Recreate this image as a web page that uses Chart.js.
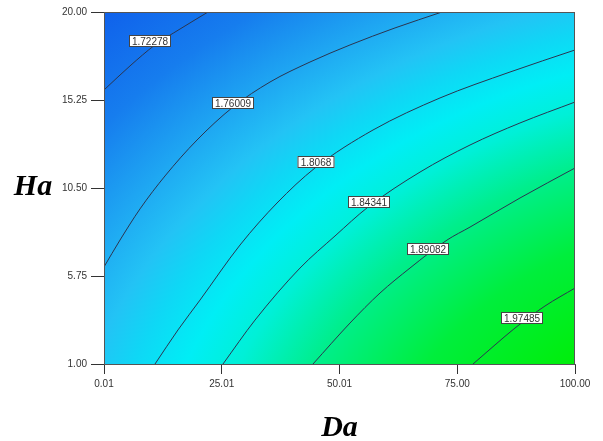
<!DOCTYPE html>
<html>
<head>
<meta charset="utf-8">
<script src="https://cdn.jsdelivr.net/npm/chart.js@4.4.1/dist/chart.umd.min.js"></script>
<style>
  body { margin: 0; background: #fff; }
  #wrap { width: 603px; height: 441px; position: relative; }
</style>
</head>
<body>
<div id="wrap"><canvas id="contour"></canvas></div>
<script>
// axis ticks
const daTicks = [0.01, 25.01, 50.01, 75.0, 100.0];
const haTicks = [1.0, 5.75, 10.5, 15.25, 20.0];

// contour levels and their label anchors (Da, Ha)
const levels = ["1.72278", "1.76009", "1.8068", "1.84341", "1.89082", "1.97485"];
const labelDa = [9.88, 27.5, 44.91, 56.27, 68.79, 88.85];
const labelHa = [18.41, 15.11, 11.93, 9.77, 7.23, 3.46];

// contour lines
const c1Da = [0.01, 5.53, 10.84, 16.14, 22.09];
const c1Ha = [15.79, 17.09, 18.22, 19.08, 20.0];
const c2Da = [0.01, 3.41, 7.65, 12.96, 19.75, 27.4, 35.25, 43.74, 52.23, 61.79, 71.77];
const c2Ha = [6.24, 7.69, 9.37, 11.15, 13.09, 14.87, 16.22, 17.3, 18.22, 19.14, 20.0];
const c3Da = [10.84, 15.72, 20.39, 28.88, 36.74, 44.8, 57.12, 71.34, 86.2, 100.0];
const c3Ha = [1.0, 2.84, 4.45, 7.42, 9.69, 11.58, 13.63, 15.36, 16.76, 17.95];
const c4Da = [25.27, 32.07, 41.62, 49.05, 56.06, 67.1, 77.71, 88.32, 100.0];
const c4Ha = [1.0, 3.37, 6.18, 7.91, 9.47, 11.36, 12.82, 14.01, 15.14];
const c5Da = [44.38, 52.23, 58.6, 64.97, 72.83, 77.71, 88.32, 100.0];
const c5Ha = [1.0, 3.21, 4.83, 6.18, 7.69, 8.39, 9.96, 11.58];
const c6Da = [78.35, 83.02, 87.26, 93.63, 100.0];
const c6Ha = [1.0, 2.03, 2.94, 4.13, 5.1];

const lineDa = [c1Da, c2Da, c3Da, c4Da, c5Da, c6Da];
const lineHa = [c1Ha, c2Ha, c3Ha, c4Ha, c5Ha, c6Ha];

function toPoints(xs, ys) {
  return xs.map((x, i) => ({ x: x, y: ys[i] }));
}

const datasets = levels.map((lvl, i) => ({
  label: lvl,
  data: toPoints(lineDa[i], lineHa[i]),
  showLine: true,
  borderColor: "#2b3550",
  borderWidth: 1,
  pointRadius: 0,
  cubicInterpolationMode: "monotone",
}));

// colour field: elliptical gradient around the lower right corner
const fieldPlugin = {
  id: "field",
  beforeDatasetsDraw(chart) {
    const { ctx, chartArea: a, scales } = chart;
    const unit = (a.right - a.left) / 471;
    const cx = scales.x.getPixelForValue(147.77);
    const cy = scales.y.getPixelForValue(-7.42);
    const k = 1.363;
    const R = 1000 * unit;
    ctx.save();
    ctx.beginPath();
    ctx.rect(a.left, a.top, a.right - a.left, a.bottom - a.top);
    ctx.clip();
    ctx.translate(cx, cy);
    ctx.scale(1, 1 / k);
    const g = ctx.createRadialGradient(0, 0, 0, 0, 0, R);
    g.addColorStop(0.0, "rgb(0,235,0)");
    g.addColorStop(0.31, "rgb(0,238,10)");
    g.addColorStop(0.43, "rgb(0,238,60)");
    g.addColorStop(0.53, "rgb(0,238,140)");
    g.addColorStop(0.6, "rgb(0,240,215)");
    g.addColorStop(0.65, "rgb(0,238,245)");
    g.addColorStop(0.7, "rgb(15,215,245)");
    g.addColorStop(0.74, "rgb(35,195,245)");
    g.addColorStop(0.8, "rgb(30,165,242)");
    g.addColorStop(0.88, "rgb(22,125,238)");
    g.addColorStop(0.99, "rgb(15,95,235)");
    g.addColorStop(1.0, "rgb(15,95,235)");
    ctx.fillStyle = g;
    ctx.fillRect(a.left - cx, (a.top - cy) * k, a.right - a.left, (a.bottom - a.top) * k);
    ctx.restore();
  },
  afterDatasetsDraw(chart) {
    const { ctx, chartArea: a, scales } = chart;
    ctx.save();
    // frame
    ctx.strokeStyle = "#555";
    ctx.lineWidth = 1;
    ctx.strokeRect(a.left + 0.5, a.top + 0.5, a.right - a.left - 1, a.bottom - a.top);
    // contour labels
    ctx.font = "10px Arial, 'Liberation Sans', sans-serif";
    ctx.textAlign = "center";
    ctx.textBaseline = "middle";
    levels.forEach((lvl, i) => {
      const px = Math.round(scales.x.getPixelForValue(labelDa[i]));
      const py = Math.round(scales.y.getPixelForValue(labelHa[i]));
      const w = Math.round(ctx.measureText(lvl).width) + 6;
      const h = 12;
      ctx.fillStyle = "#fff";
      ctx.fillRect(px - w / 2, py - h / 2, w, h);
      ctx.strokeStyle = "#444";
      ctx.strokeRect(px - w / 2 + 0.5, py - h / 2 + 0.5, w - 1, h - 1);
      ctx.fillStyle = "#333";
      ctx.fillText(lvl, px, py + 1);
    });
    // axis titles
    ctx.fillStyle = "#000";
    ctx.font = "italic bold 30px 'Times New Roman', 'Liberation Serif', serif";
    ctx.textBaseline = "alphabetic";
    ctx.fillText("Ha", 33, 195);
    ctx.fillText("Da", (a.left + a.right) / 2, 436);
    ctx.restore();
  },
};

const ctx = document.getElementById("contour");
new Chart(ctx, {
  type: "scatter",
  data: { datasets: datasets },
  options: {
    responsive: true,
    maintainAspectRatio: false,
    animation: false,
    layout: { padding: { left: 0, right: 28, top: 12, bottom: 0 } },
    plugins: { legend: { display: false }, tooltip: { enabled: false } },
    scales: {
      x: {
        type: "linear",
        min: 0.01,
        max: 100,
        afterBuildTicks(scale) {
          scale.ticks = daTicks.map((v) => ({ value: v }));
        },
        afterFit(scale) {
          scale.height = 77;
        },
        ticks: {
          autoSkip: false,
          maxRotation: 0,
          padding: 4,
          color: "#333",
          font: { family: "Arial, 'Liberation Sans', sans-serif", size: 10 },
          callback: (v) => Number(v).toFixed(2),
        },
        grid: { drawOnChartArea: false, tickLength: 10, color: "#333" },
        border: { color: "#555" },
      },
      y: {
        type: "linear",
        min: 1,
        max: 20,
        afterBuildTicks(scale) {
          scale.ticks = haTicks.map((v) => ({ value: v }));
        },
        afterFit(scale) {
          scale.width = 104;
        },
        ticks: {
          autoSkip: false,
          padding: 4,
          color: "#333",
          font: { family: "Arial, 'Liberation Sans', sans-serif", size: 10 },
          callback: (v) => Number(v).toFixed(2),
        },
        grid: { drawOnChartArea: false, tickLength: 13, color: "#333" },
        border: { color: "#555" },
      },
    },
  },
  plugins: [fieldPlugin],
});
</script>
</body>
</html>
